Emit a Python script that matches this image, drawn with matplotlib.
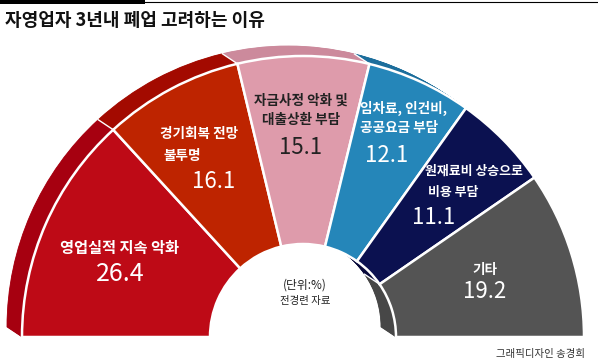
import numpy as np
import matplotlib.pyplot as plt
from matplotlib.patches import Wedge, Rectangle

plt.rcParams['font.family'] = ['Noto Sans CJK KR', 'DejaVu Sans']
plt.rcParams['font.weight'] = 'bold'

# 데이터
labels = ['영업실적 지속 악화', '경기회복 전망\n불투명', '자금사정 악화 및\n대출상환 부담',
          '임차료, 인건비,\n공공요금 부담', '원재료비 상승으로\n비용 부담', '기타']
values = [26.4, 16.1, 15.1, 12.1, 11.1, 19.2]

front_colors = ['#BE0A16', '#BE2400', '#DE9BAB', '#2586B9', '#0B1150', '#545454']
back_colors = ['#A60010', '#A30A00', '#CC8A9C', '#1C6E9C', '#08093A', '#474747']

W, H = 598, 362
fig = plt.figure(figsize=(W / 100, H / 100), dpi=100)
ax = fig.add_axes([0, 0, 1, 1])
ax.set_xlim(0, W)
ax.set_ylim(H, 0)  # 픽셀 좌표 (y 아래로)
ax.axis('off')

cx, cy = 303, 337      # 반원 중심
r_out, r_in = 281, 93
dx, dy = -15, -10      # 입체 두께 방향

total = sum(values)
angles = []
cum = 0
for v in values:
    a1 = 180 - cum / total * 180
    cum += v
    a2 = 180 - cum / total * 180
    angles.append((a1, a2))

# 옆면(입체) - 뒤에서 앞으로 쓸어서 채움
for t in np.linspace(1, 0.05, 24):
    for (a1, a2), c in zip(angles, back_colors):
        ax.add_patch(Wedge((cx + t * dx, cy + t * dy), r_out, -a1, -a2,
                           width=r_out - r_in, facecolor=c, edgecolor=c,
                           linewidth=0.6, zorder=1))

# 옆면 경계선
for a1, a2 in angles[1:]:
    th = np.radians(a1)
    for r in (r_out, r_in):
        x0, y0 = cx + r * np.cos(th), cy - r * np.sin(th)
        ax.plot([x0, x0 + dx], [y0, y0 + dy], color='white', linewidth=1.0, zorder=2)

# 앞면
for (a1, a2), c in zip(angles, front_colors):
    ax.add_patch(Wedge((cx, cy), r_out, -a1, -a2, width=r_out - r_in,
                       facecolor=c, edgecolor='white', linewidth=1.8, zorder=3))

# 라벨
ax.text(120, 248, labels[0], color='white', fontsize=11, ha='center', va='center')
ax.text(120, 274, f'{values[0]}', color='white', fontsize=18, ha='center', va='center',
        fontweight='normal')

l1 = labels[1].split('\n')
ax.text(160, 134, l1[0], color='white', fontsize=9.8, ha='left', va='center')
ax.text(163, 156, l1[1], color='white', fontsize=9.8, ha='left', va='center')
ax.text(214, 182, f'{values[1]}', color='white', fontsize=16, ha='center', va='center',
        fontweight='normal')

ax.text(301, 110, labels[2], color='#222222', fontsize=9.8, ha='center', va='center',
        linespacing=1.5)
ax.text(301, 147, f'{values[2]}', color='#222222', fontsize=16, ha='center', va='center',
        fontweight='normal')

ax.text(360, 118, labels[3], color='white', fontsize=9.8, ha='left', va='center',
        linespacing=1.5)
ax.text(387, 155, f'{values[3]}', color='white', fontsize=16, ha='center', va='center',
        fontweight='normal')

l4 = labels[4].split('\n')
ax.text(425, 171, l4[0], color='white', fontsize=9.3, ha='left', va='center')
ax.text(428, 192, l4[1], color='white', fontsize=9.3, ha='left', va='center')
ax.text(434, 217, f'{values[4]}', color='white', fontsize=16, ha='center', va='center',
        fontweight='normal')

ax.text(485, 270, labels[5], color='white', fontsize=9.8, ha='center', va='center')
ax.text(485, 291, f'{values[5]}', color='white', fontsize=16, ha='center', va='center',
        fontweight='normal')

ax.text(305, 285, '(단위:%)', color='#222222', fontsize=8.5, ha='center', va='center',
        fontweight='normal')
ax.text(305, 301, '전경련 자료', color='#222222', fontsize=7.5, ha='center', va='center',
        fontweight='normal')

# 제목
ax.add_patch(Rectangle((0, 0), 145, 4, facecolor='black', edgecolor='none'))
ax.plot([145, W], [2, 2], color='black', linewidth=0.8)
ax.text(5, 21, '자영업자 3년내 폐업 고려하는 이유', fontsize=13, ha='left', va='center',
        color='#111111')
ax.text(585, 354, '그래픽디자인 송경희', fontsize=7.5, ha='right', va='center', color='#333333',
        fontweight='normal')

fig.savefig('out.png', dpi=100)
